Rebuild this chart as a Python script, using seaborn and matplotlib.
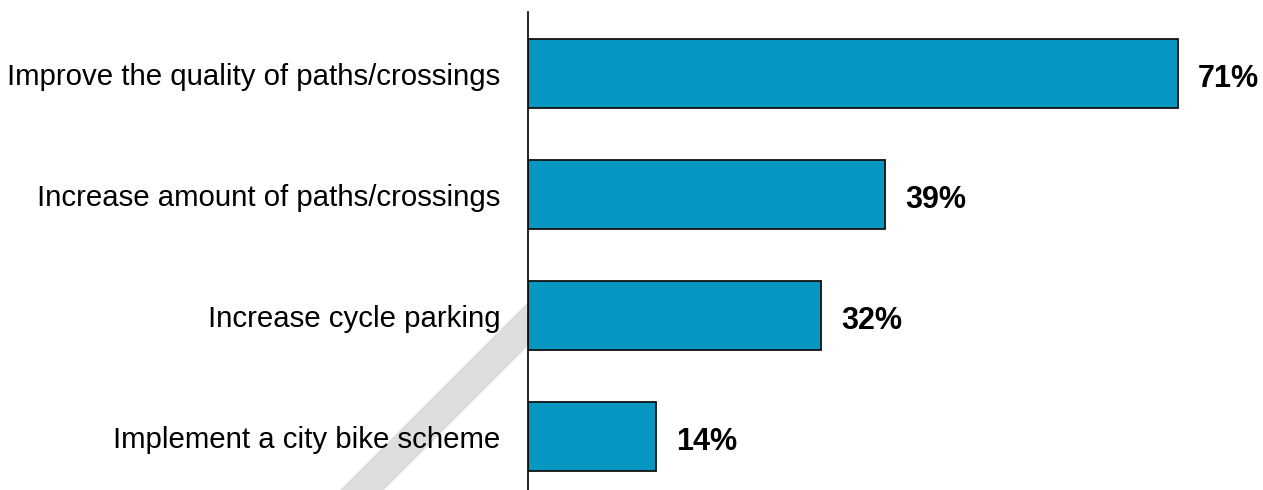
import matplotlib
matplotlib.use("Agg")
import matplotlib.pyplot as plt
from matplotlib.patches import Polygon
import seaborn as sns
import pandas as pd

categories = [
    "Improve the quality of paths/crossings",
    "Increase amount of paths/crossings",
    "Increase cycle parking",
    "Implement a city bike scheme",
]
values = [71, 39, 32, 14]
value_labels = ["71%", "39%", "32%", "14%"]

sns.set_theme(style="white")
plt.rcParams["font.family"] = ["Liberation Sans", "DejaVu Sans"]

W, H = 1263, 490
fig = plt.figure(figsize=(W / 100, H / 100), dpi=100)
fig.patch.set_facecolor("white")

# decorative grey diagonal band behind the labels
bg = fig.add_axes([0, 0, 528 / W, 1])
bg.set_xlim(0, 528)
bg.set_ylim(H, 0)
bg.axis("off")
bg.add_patch(Polygon([(528, 302), (528, 346), (350, 524), (306, 524)],
                     closed=True, facecolor="#dedede", edgecolor="none"))

ax = fig.add_axes([528 / W, 0, 1 - 528 / W, (H - 12) / H])
ax.patch.set_alpha(0)
df = pd.DataFrame({"category": categories, "value": values})
sns.barplot(data=df, x="value", y="category", orient="h", ax=ax,
            color="#0797c3", saturation=1, width=0.57,
            edgecolor="#111111", linewidth=1.3)

px_per_unit = 650 / 71
ax.set_xlim(0, (W - 528) / px_per_unit)
ax.set_ylim(3.44, -0.512)

# value labels, ~20 px to the right of each bar end
for i, (v, lab) in enumerate(zip(values, value_labels)):
    ax.annotate(lab, xy=(v, i), xytext=(20 * 72 / 100, -4), textcoords="offset points",
                ha="left", va="center", fontsize=22, fontweight="bold",
                color="#000000")

ax.set_xlabel("")
ax.set_ylabel("")
ax.set_xticks([])
ax.tick_params(axis="y", length=0, pad=20, labelsize=21.2, labelcolor="#000000")
for s in ["top", "right", "bottom"]:
    ax.spines[s].set_visible(False)
ax.spines["left"].set_color("#111111")
ax.spines["left"].set_linewidth(1.3)

fig.savefig("out.png", dpi=100, facecolor="white")
